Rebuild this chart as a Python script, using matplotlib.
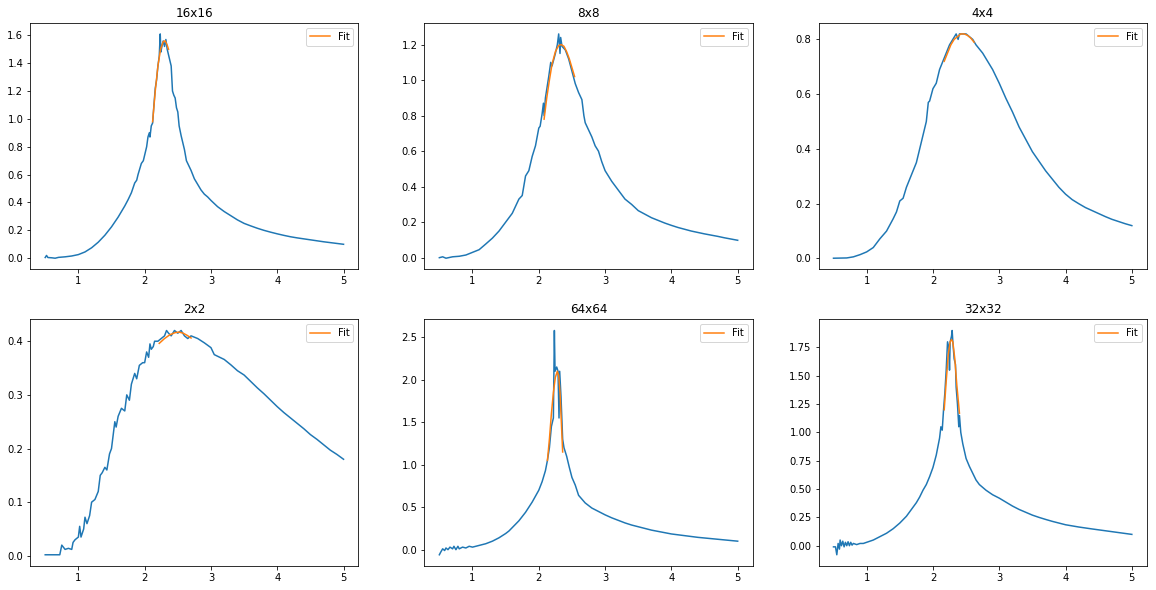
import matplotlib
matplotlib.use('Agg')
import matplotlib.pyplot as plt
import numpy as np

# susceptibility vs temperature

# 16x16
t16 = [0.5, 0.52, 0.54, 0.6, 0.65, 0.7, 0.8, 0.9, 1.0, 1.1, 1.2, 1.3, 1.4, 1.5, 1.6, 1.7, 1.75, 1.8,
       1.85, 1.88, 1.9, 1.95, 1.98, 2.0, 2.03, 2.05, 2.07, 2.08, 2.1, 2.12, 2.14, 2.16, 2.18, 2.2, 2.22,
       2.235, 2.245, 2.26, 2.28, 2.3, 2.32, 2.34, 2.36, 2.38, 2.4, 2.42, 2.44, 2.46, 2.48, 2.5, 2.52,
       2.55, 2.58, 2.6, 2.63, 2.65, 2.7, 2.75, 2.8, 2.85, 2.9, 2.95, 3.0, 3.1, 3.2, 3.3, 3.4, 3.5, 3.6,
       3.7, 3.8, 3.9, 4.0, 4.1, 4.2, 4.3, 4.4, 4.5, 4.6, 4.7, 4.8, 4.9, 5.0]
chi16 = [0.005, 0.02, 0.005, 0.003, 0.0, 0.006, 0.01, 0.016, 0.026, 0.045, 0.075, 0.115, 0.165, 0.225,
         0.295, 0.375, 0.42, 0.47, 0.54, 0.56, 0.6, 0.68, 0.7, 0.74, 0.8, 0.87, 0.9, 0.87, 0.95, 0.97,
         1.1, 1.22, 1.28, 1.38, 1.45, 1.61, 1.48, 1.52, 1.56, 1.52, 1.57, 1.5, 1.46, 1.42, 1.38, 1.2,
         1.17, 1.15, 1.08, 1.05, 0.95, 0.88, 0.82, 0.78, 0.7, 0.68, 0.63, 0.57, 0.53, 0.49, 0.46, 0.44,
         0.415, 0.37, 0.335, 0.305, 0.275, 0.25, 0.232, 0.215, 0.2, 0.187, 0.175, 0.164, 0.154, 0.146,
         0.139, 0.132, 0.125, 0.118, 0.112, 0.106, 0.1]
fit_t16 = [2.12, 2.16, 2.2, 2.24, 2.28, 2.31, 2.34, 2.36]
fit16 = [0.98, 1.2, 1.38, 1.5, 1.555, 1.56, 1.53, 1.5]

# 8x8
t8 = [0.5, 0.55, 0.6, 0.7, 0.8, 0.9, 1.0, 1.1, 1.2, 1.3, 1.4, 1.5, 1.6, 1.7, 1.75, 1.8, 1.85, 1.9,
      1.95, 2.0, 2.02, 2.05, 2.07, 2.08, 2.1, 2.15, 2.18, 2.2, 2.25, 2.28, 2.3, 2.32, 2.33, 2.35, 2.4,
      2.45, 2.5, 2.55, 2.6, 2.65, 2.68, 2.7, 2.75, 2.8, 2.85, 2.9, 2.95, 3.0, 3.1, 3.2, 3.3, 3.4, 3.5,
      3.6, 3.7, 3.8, 3.9, 4.0, 4.1, 4.2, 4.3, 4.4, 4.5, 4.6, 4.7, 4.8, 4.9, 5.0]
chi8 = [0.0, 0.005, -0.003, 0.005, 0.008, 0.015, 0.03, 0.045, 0.077, 0.11, 0.15, 0.2, 0.25, 0.33,
        0.35, 0.46, 0.49, 0.57, 0.63, 0.73, 0.74, 0.81, 0.87, 0.8, 0.9, 1.02, 1.1, 1.08, 1.15, 1.2,
        1.26, 1.15, 1.24, 1.19, 1.17, 1.12, 1.05, 0.98, 0.93, 0.89, 0.8, 0.76, 0.72, 0.68, 0.63, 0.6,
        0.54, 0.49, 0.43, 0.38, 0.33, 0.3, 0.265, 0.245, 0.225, 0.21, 0.195, 0.182, 0.17, 0.16, 0.15,
        0.142, 0.134, 0.127, 0.12, 0.112, 0.105, 0.098]
fit_t8 = [2.08, 2.12, 2.16, 2.2, 2.25, 2.3, 2.34, 2.38, 2.42, 2.46, 2.5, 2.54]
fit8 = [0.78, 0.9, 1.0, 1.09, 1.16, 1.195, 1.2, 1.19, 1.16, 1.12, 1.07, 1.02]

# 4x4
t4 = [0.5, 0.7, 0.8, 0.9, 1.0, 1.1, 1.2, 1.3, 1.4, 1.45, 1.5, 1.55, 1.6, 1.65, 1.7, 1.75, 1.8, 1.85,
      1.9, 1.93, 1.95, 2.0, 2.05, 2.1, 2.15, 2.2, 2.25, 2.3, 2.35, 2.38, 2.4, 2.45, 2.5, 2.55, 2.6,
      2.65, 2.7, 2.75, 2.8, 2.85, 2.9, 2.95, 3.0, 3.1, 3.2, 3.3, 3.4, 3.5, 3.6, 3.7, 3.8, 3.9, 4.0,
      4.1, 4.2, 4.3, 4.4, 4.5, 4.6, 4.7, 4.8, 4.9, 5.0]
chi4 = [0.001, 0.002, 0.006, 0.014, 0.024, 0.04, 0.072, 0.1, 0.145, 0.17, 0.21, 0.22, 0.26, 0.29,
        0.32, 0.35, 0.4, 0.45, 0.5, 0.57, 0.575, 0.62, 0.64, 0.69, 0.72, 0.75, 0.78, 0.8, 0.82, 0.8,
        0.82, 0.82, 0.82, 0.81, 0.8, 0.78, 0.765, 0.75, 0.73, 0.71, 0.69, 0.665, 0.64, 0.585, 0.535,
        0.48, 0.435, 0.39, 0.355, 0.32, 0.29, 0.26, 0.235, 0.215, 0.2, 0.186, 0.175, 0.164, 0.153,
        0.143, 0.135, 0.127, 0.12]
fit_t4 = [2.17, 2.22, 2.27, 2.32, 2.37, 2.42, 2.47, 2.52, 2.57, 2.62]
fit4 = [0.72, 0.75, 0.78, 0.8, 0.81, 0.82, 0.82, 0.815, 0.805, 0.79]

# 2x2
t2 = [0.5, 0.6, 0.72, 0.75, 0.8, 0.85, 0.9, 0.92, 0.95, 1.0, 1.02, 1.04, 1.08, 1.1, 1.13, 1.17, 1.2,
      1.25, 1.3, 1.33, 1.36, 1.4, 1.43, 1.47, 1.5, 1.55, 1.57, 1.6, 1.65, 1.7, 1.73, 1.77, 1.8, 1.85,
      1.88, 1.92, 1.97, 2.0, 2.03, 2.06, 2.08, 2.1, 2.13, 2.15, 2.2, 2.25, 2.3, 2.33, 2.36, 2.4, 2.45,
      2.5, 2.55, 2.6, 2.65, 2.7, 2.8, 2.9, 3.0, 3.05, 3.1, 3.2, 3.3, 3.4, 3.5, 3.6, 3.7, 3.8, 3.9,
      4.0, 4.1, 4.2, 4.3, 4.4, 4.5, 4.6, 4.7, 4.8, 4.9, 5.0]
chi2 = [0.002, 0.002, 0.002, 0.02, 0.012, 0.014, 0.012, 0.025, 0.03, 0.035, 0.055, 0.035, 0.05,
        0.072, 0.06, 0.075, 0.1, 0.105, 0.12, 0.15, 0.155, 0.165, 0.16, 0.19, 0.2, 0.25, 0.24, 0.26,
        0.275, 0.27, 0.3, 0.29, 0.32, 0.34, 0.33, 0.355, 0.36, 0.36, 0.38, 0.37, 0.395, 0.385, 0.39,
        0.4, 0.4, 0.405, 0.41, 0.42, 0.415, 0.41, 0.42, 0.415, 0.42, 0.41, 0.405, 0.41, 0.405, 0.397,
        0.388, 0.375, 0.372, 0.366, 0.356, 0.345, 0.337, 0.325, 0.313, 0.302, 0.29, 0.278, 0.267,
        0.257, 0.247, 0.237, 0.226, 0.217, 0.207, 0.197, 0.189, 0.18]
fit_t2 = [2.22, 2.3, 2.38, 2.46, 2.52, 2.58, 2.64, 2.7]
fit2 = [0.396, 0.405, 0.412, 0.416, 0.417, 0.415, 0.411, 0.406]

# 64x64
t64 = [0.5, 0.52, 0.55, 0.58, 0.6, 0.63, 0.66, 0.7, 0.72, 0.75, 0.78, 0.8, 0.85, 0.9, 0.95, 1.0, 1.1,
       1.2, 1.3, 1.4, 1.5, 1.55, 1.6, 1.65, 1.7, 1.75, 1.8, 1.85, 1.9, 1.95, 2.0, 2.05, 2.1, 2.13,
       2.16, 2.19, 2.22, 2.235, 2.245, 2.27, 2.29, 2.305, 2.315, 2.335, 2.36, 2.38, 2.42, 2.46, 2.5,
       2.55, 2.6, 2.7, 2.8, 2.9, 3.0, 3.1, 3.2, 3.3, 3.4, 3.5, 3.6, 3.7, 3.8, 3.9, 4.0, 4.2, 4.4, 4.6,
       4.8, 5.0]
chi64 = [-0.06, -0.03, 0.01, -0.01, 0.02, 0.0, 0.03, 0.01, 0.04, 0.0, 0.04, 0.01, 0.03, 0.02, 0.04,
         0.03, 0.05, 0.07, 0.1, 0.14, 0.19, 0.22, 0.26, 0.3, 0.34, 0.39, 0.44, 0.5, 0.56, 0.63, 0.7,
         0.8, 0.93, 1.05, 1.2, 1.45, 1.55, 2.58, 2.1, 2.15, 2.1, 1.55, 2.1, 1.8, 1.3, 1.2, 1.1, 0.97,
         0.85, 0.76, 0.64, 0.55, 0.49, 0.45, 0.41, 0.375, 0.345, 0.315, 0.29, 0.27, 0.25, 0.23, 0.215,
         0.2, 0.185, 0.165, 0.145, 0.13, 0.115, 0.1]
fit_t64 = [2.13, 2.16, 2.19, 2.22, 2.25, 2.28, 2.3, 2.32, 2.34, 2.36]
fit64 = [1.05, 1.3, 1.6, 1.85, 2.03, 2.1, 2.05, 1.85, 1.5, 1.15]

# 32x32
t32 = [0.5, 0.53, 0.55, 0.57, 0.59, 0.6, 0.62, 0.64, 0.66, 0.68, 0.7, 0.72, 0.74, 0.76, 0.78, 0.8,
       0.85, 0.9, 0.95, 1.0, 1.1, 1.2, 1.3, 1.4, 1.5, 1.55, 1.6, 1.65, 1.7, 1.75, 1.8, 1.85, 1.9, 1.95,
       2.0, 2.05, 2.1, 2.12, 2.14, 2.16, 2.18, 2.2, 2.22, 2.24, 2.25, 2.26, 2.28, 2.29, 2.3, 2.32,
       2.34, 2.35, 2.37, 2.39, 2.4, 2.42, 2.45, 2.5, 2.55, 2.6, 2.65, 2.7, 2.8, 2.9, 3.0, 3.1, 3.2,
       3.3, 3.4, 3.5, 3.6, 3.7, 3.8, 3.9, 4.0, 4.2, 4.4, 4.6, 4.8, 5.0]
chi32 = [-0.01, -0.01, -0.08, 0.02, -0.03, 0.05, 0.0, 0.04, -0.01, 0.03, 0.0, 0.035, 0.0, 0.03,
         0.005, 0.02, 0.01, 0.02, 0.02, 0.03, 0.05, 0.08, 0.11, 0.15, 0.2, 0.23, 0.26, 0.3, 0.34,
         0.38, 0.43, 0.49, 0.54, 0.61, 0.69, 0.8, 0.95, 1.05, 1.02, 1.2, 1.35, 1.55, 1.8, 1.75, 1.55,
         1.8, 1.85, 1.9, 1.8, 1.65, 1.6, 1.4, 1.25, 1.05, 1.15, 1.0, 0.9, 0.77, 0.7, 0.64, 0.58, 0.54,
         0.49, 0.45, 0.42, 0.385, 0.35, 0.32, 0.295, 0.27, 0.25, 0.232, 0.215, 0.2, 0.185, 0.165,
         0.148, 0.132, 0.116, 0.1]
fit_t32 = [2.17, 2.2, 2.23, 2.26, 2.28, 2.3, 2.33, 2.36, 2.4]
fit32 = [1.2, 1.45, 1.68, 1.8, 1.82, 1.8, 1.65, 1.42, 1.17]

titles = ['16x16', '8x8', '4x4', '2x2', '64x64', '32x32']
temps = [t16, t8, t4, t2, t64, t32]
chis = [chi16, chi8, chi4, chi2, chi64, chi32]
fit_temps = [fit_t16, fit_t8, fit_t4, fit_t2, fit_t64, fit_t32]
fits = [fit16, fit8, fit4, fit2, fit64, fit32]

fig, axes = plt.subplots(2, 3, figsize=(1156/72, 590/72), dpi=72)
plt.subplots_adjust(left=0.0262, right=0.992, top=0.9615, bottom=0.0407, wspace=0.201, hspace=0.202)

for ax, name, t, chi, ft, f in zip(axes.flat, titles, temps, chis, fit_temps, fits):
    ax.plot(t, chi)
    ax.plot(ft, f, label='Fit')
    ax.set_title(name)
    ax.legend(loc='upper right')

plt.savefig('out.png', dpi=72)
